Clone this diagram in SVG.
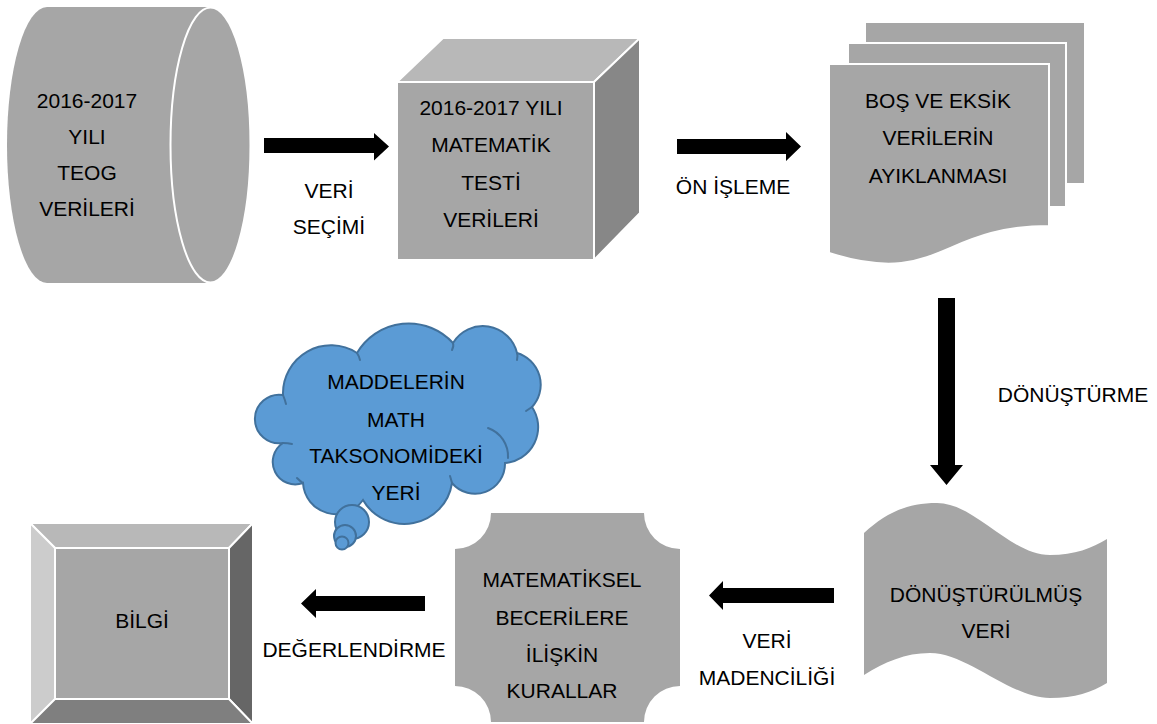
<svg xmlns="http://www.w3.org/2000/svg" width="1157" height="724" viewBox="0 0 1157 724">
  <defs>
    <style>
      text { font-family: "Liberation Sans", Arial, sans-serif; font-size: 21px; fill: #000; text-anchor: middle; }
      .gray { fill: #a6a6a6; }
      .sep { stroke: #ffffff; stroke-width: 2; stroke-linejoin: miter; }
      .arrow { fill: #000; }
      .cloud { fill: #5b9bd5; stroke: #41719c; stroke-width: 2; }
      .inner { fill: none; stroke: #41719c; stroke-width: 2; stroke-linecap: round; }
    </style>
  </defs>
  <rect width="1157" height="724" fill="#ffffff"/>

  <!-- connectors -->
  <g id="connectors">
    <polygon class="arrow" points="264,138 374,138 374,133 389,146.5 374,160.5 374,153 264,153"/>
    <polygon class="arrow" points="677,139 786,139 786,132 801,146.5 786,161 786,154 677,154"/>
    <polygon class="arrow" points="938,298 955,298 955,465 963,465 946.5,485 930,465 938,465"/>
    <polygon class="arrow" points="834,588 723,588 723,581 709,595.5 723,610 723,603 834,603"/>
    <polygon class="arrow" points="425,596 316,596 316,589 301,603.5 316,618 316,611 425,611"/>
    <text x="329" y="198">VERİ</text>
    <text x="329" y="234">SEÇİMİ</text>
    <text x="733" y="194">ÖN İŞLEME</text>
    <text x="1073" y="402">DÖNÜŞTÜRME</text>
    <text x="767" y="648">VERİ</text>
    <text x="767" y="685">MADENCİLİĞİ</text>
    <text x="354" y="657">DEĞERLENDİRME</text>
  </g>

  <!-- source data: horizontal cylinder -->
  <g id="node-teog">
    <path class="gray" d="M47,7 H210 V283 H47 A40,138 0 0 1 47,7 Z"/>
    <ellipse class="gray sep" cx="210.5" cy="145" rx="40" ry="137.5" stroke-width="2.5"/>
    <text x="87" y="108">2016-2017</text>
    <text x="87" y="144">YILI</text>
    <text x="87" y="180">TEOG</text>
    <text x="87" y="216">VERİLERİ</text>
  </g>

  <!-- selected test data: cube -->
  <g id="node-matematik">
    <polygon class="sep" fill="#b8b8b8" points="397,82 443,38 640,38 594,82"/>
    <polygon class="sep" fill="#878787" points="594,82 640,38 640,213 594,260"/>
    <rect class="gray sep" x="397" y="82" width="197" height="178"/>
    <text x="491" y="115">2016-2017 YILI</text>
    <text x="491" y="152">MATEMATİK</text>
    <text x="491" y="190">TESTİ</text>
    <text x="491" y="227">VERİLERİ</text>
  </g>

  <!-- cleaning step: stacked documents -->
  <g id="node-ayiklama">
    <rect class="gray sep" x="865" y="22" width="220" height="162"/>
    <rect class="gray sep" x="848" y="43" width="218" height="164"/>
    <path class="gray sep" d="M829,64 H1049 V226 C939,226 939,288 829,253 Z"/>
    <text x="938" y="108">BOŞ VE EKSİK</text>
    <text x="938" y="145">VERİLERİN</text>
    <text x="938" y="183">AYIKLANMASI</text>
  </g>

  <!-- transformed data: wave -->
  <g id="node-donusturulmus">
    <path class="gray" d="M864,533 C885,514 905,503 937,503 C975,503 1010,555 1050,555 C1075,555 1092,548 1107,539 V683 C1092,692 1075,698 1050,698 C1010,698 968,653 930,653 C905,653 885,662 864,675 Z"/>
    <text x="986" y="602">DÖNÜŞTÜRÜLMÜŞ</text>
    <text x="986" y="638">VERİ</text>
  </g>

  <!-- rules: plaque -->
  <g id="node-kurallar">
    <path class="gray" d="M491,513 H644 A36,36 0 0 0 680,549 V686 A36,36 0 0 0 644,722 H491 A36,36 0 0 0 455,686 V549 A36,36 0 0 0 491,513 Z"/>
    <text x="562" y="587">MATEMATİKSEL</text>
    <text x="562" y="625">BECERİLERE</text>
    <text x="562" y="662">İLİŞKİN</text>
    <text x="562" y="698">KURALLAR</text>
  </g>

  <!-- knowledge: bevel -->
  <g id="node-bilgi">
    <polygon class="sep" fill="#b8b8b8" points="30,523 253,523 229,548 55,548"/>
    <polygon class="sep" fill="#cccccc" points="30,523 55,548 55,699 30,724"/>
    <polygon class="sep" fill="#666666" points="253,523 253,724 229,699 229,548"/>
    <polygon class="sep" fill="#7f7f7f" points="30,724 55,699 229,699 253,724"/>
    <rect class="gray sep" x="55" y="548" width="174" height="151"/>
    <text x="142" y="628">BİLGİ</text>
  </g>

  <!-- taxonomy note: thought cloud -->
  <g id="node-taksonomi">
    <path class="cloud" d="M283,395 A48,48 0 0 1 357,353 A60,60 0 0 1 453,343 A35,35 0 0 1 517,353 A33,33 0 0 1 532,407 A36,36 0 0 1 505,463 A30,30 0 0 1 452,483 A48,48 0 0 1 363,500 A33,33 0 0 1 303,483 A22.5,22.5 0 0 1 283,443 A24.3,24.3 0 1 1 283,395 Z"/>
    <path class="inner" d="M283,395 q2,5 3,9"/>
    <path class="inner" d="M357,353 q2,3 3,7"/>
    <path class="inner" d="M453,343 q1,3 -1,7"/>
    <path class="inner" d="M517,353 q1,3 0,7"/>
    <path class="inner" d="M532,407 q-3,2 -6,4"/>
    <path class="inner" d="M488,428 A30,30 0 0 1 508,458"/>
    <path class="inner" d="M452,483 q-1,-4 -2,-7"/>
    <path class="inner" d="M303,483 q-3,-2 -6,-5"/>
    <path class="inner" d="M283,443 q5,0 9,1"/>
    <circle class="cloud" cx="352" cy="522" r="17"/>
    <circle class="cloud" cx="345" cy="536" r="11"/>
    <circle class="cloud" cx="342" cy="543" r="6.5"/>
    <text x="396" y="389">MADDELERİN</text>
    <text x="396" y="427">MATH</text>
    <text x="396" y="463">TAKSONOMİDEKİ</text>
    <text x="396" y="500">YERİ</text>
  </g>
</svg>
